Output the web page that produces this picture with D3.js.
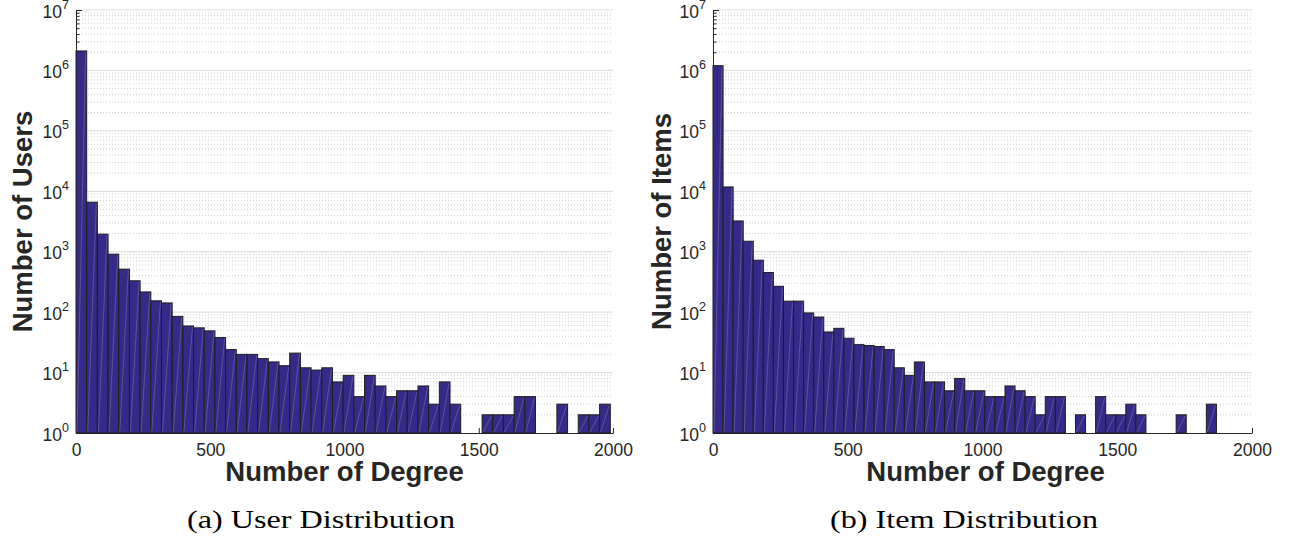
<!DOCTYPE html>
<html>
<head>
<meta charset="utf-8">
<style>
body { margin: 0; background: #ffffff; }
.tick-lbl { font-family: "Liberation Sans", Arial, sans-serif; font-size: 17.5px; fill: #262626; }
.ax-title { font-family: "Liberation Sans", Arial, sans-serif; font-size: 27.5px; font-weight: bold; fill: #262626; }
.caption { font-family: "Liberation Serif", "Times New Roman", serif; font-size: 25px; fill: #000000; }
</style>
<script src="https://d3js.org/d3.v7.min.js"></script>
</head>
<body>
<script>

// histogram counts, 50 bins each
var userCounts = [2100000, 6600, 1950, 910, 515, 330, 216, 154, 142, 85,
                  59, 55, 49, 38, 24, 20, 20, 17, 15, 13,
                  21, 12, 11, 12, 7, 9, 4, 9, 6, 4,
                  5, 5, 6, 3, 7, 3, 0, 0, 2, 2,
                  2, 4, 4, 0, 0, 3, 0, 2, 2, 3];
var itemCounts = [1200000, 11800, 3230, 1490, 724, 453, 268, 152, 152, 97,
                  83, 47, 54, 37, 29, 28, 27, 24, 12, 9,
                  15, 7, 7, 5, 8, 5, 5, 4, 4, 6,
                  5, 4, 2, 4, 4, 0, 2, 0, 4, 2,
                  2, 3, 2, 0, 0, 0, 2, 0, 0, 3];
var userBinWidth = 39.8;
var itemBinWidth = 37.36;

var xTicks = [0, 500, 1000, 1500, 2000];
var yExps = [0, 1, 2, 3, 4, 5, 6, 7];

var width = 1289, height = 541;
var barFill = "#352a87";

var svg = d3.select("body").append("svg")
    .attr("width", width)
    .attr("height", height);

function panel(opt) {
  var g = svg.append("g");
  var x = d3.scaleLinear().domain([0, 2000]).range([opt.x0, opt.x1]);
  var y = d3.scaleLog().domain([1, 1e7]).range([433, 10]);

  var majors = yExps.map(function(e) { return Math.pow(10, e); });
  var minors = [];
  majors.slice(0, -1).forEach(function(d) {
    for (var k = 2; k <= 9; k++) minors.push(d * k);
  });

  // grid
  g.selectAll(".gminor").data(minors).enter().append("line")
    .attr("x1", x(0)).attr("x2", x(2000))
    .attr("y1", function(d) { return y(d); })
    .attr("y2", function(d) { return y(d); })
    .attr("stroke", "#c2c2c2")
    .attr("stroke-width", 0.8)
    .attr("stroke-dasharray", "1 2");
  g.selectAll(".gmajor").data(majors.slice(1)).enter().append("line")
    .attr("x1", x(0)).attr("x2", x(2000))
    .attr("y1", function(d) { return y(d); })
    .attr("y2", function(d) { return y(d); })
    .attr("stroke", "#e1e1e1")
    .attr("stroke-width", 1.2);

  // axes (drawn under the bars, like matlab's default layer)
  var xa = g.append("g")
    .attr("transform", "translate(0," + y(1) + ")")
    .call(d3.axisBottom(x).tickValues(xTicks).tickSize(-5).tickSizeOuter(0));
  xa.selectAll("text")
    .attr("class", "tick-lbl")
    .attr("fill", null)
    .attr("y", 23).attr("dy", null)
    .text(function(d) { return d; });

  var ya = g.append("g")
    .attr("transform", "translate(" + x(0) + ",0)")
    .call(d3.axisLeft(y).tickValues(majors).tickSize(-6).tickSizeOuter(0));
  ya.selectAll(".tick text").each(function(d) {
    var t = d3.select(this)
      .attr("class", "tick-lbl")
      .attr("fill", null)
      .attr("x", -7).attr("y", 7).attr("dy", null);
    t.text("");
    t.append("tspan").text("10");
    t.append("tspan").attr("dy", -9).style("font-size", "12.5px")
      .text(Math.round(Math.log10(d)));
  });
  var minorAxis = ya.append("g")
    .call(d3.axisLeft(y).tickValues(minors).tickSize(-3.5).tickFormat(""));
  minorAxis.select(".domain").remove();
  minorAxis.selectAll("text").remove();
  g.selectAll(".domain, .tick line").attr("stroke", "#262626");

  // bars
  var bins = opt.counts.map(function(v, i) {
    return { x0: i * opt.bw, x1: (i + 1) * opt.bw, v: v };
  }).filter(function(b) { return b.v > 0; });

  var bar = g.selectAll(".bar").data(bins).enter().append("g");
  bar.append("rect")
    .attr("x", function(b) { return x(b.x0); })
    .attr("width", function(b) { return x(b.x1) - x(b.x0); })
    .attr("y", function(b) { return y(b.v); })
    .attr("height", function(b) { return y(1) - y(b.v); })
    .attr("fill", barFill)
    .attr("stroke", "#1e1e1e")
    .attr("stroke-width", 1);
  // faint diagonal seam seen inside every bar
  bar.append("line")
    .attr("x1", function(b) { return x(b.x0) + 1; })
    .attr("y1", y(1) - 1)
    .attr("x2", function(b) { return x(b.x1) - 1; })
    .attr("y2", function(b) { return y(b.v) + 1; })
    .attr("stroke", "#ffffff")
    .attr("stroke-opacity", 0.28)
    .attr("stroke-width", 0.7);

  // titles
  g.append("text")
    .attr("class", "ax-title")
    .attr("text-anchor", "middle")
    .attr("x", (opt.x0 + opt.x1) / 2 + opt.xtOff)
    .attr("y", 481)
    .text("Number of Degree");
  g.append("text")
    .attr("class", "ax-title")
    .attr("text-anchor", "middle")
    .attr("transform", "translate(" + opt.ylabX + ",221.5) rotate(-90)")
    .text(opt.ylab);
  g.append("text")
    .attr("class", "caption")
    .attr("text-anchor", "middle")
    .attr("x", opt.capX)
    .attr("y", 528)
    .attr("textLength", 268)
    .attr("lengthAdjust", "spacingAndGlyphs")
    .text(opt.caption);
}

panel({ counts: userCounts, bw: userBinWidth, x0: 76, x1: 613, xtOff: 0,
        ylabX: 32, ylab: "Number of Users", capX: 321, caption: "(a) User Distribution" });
panel({ counts: itemCounts, bw: itemBinWidth, x0: 713, x1: 1252, xtOff: 3,
        ylabX: 671, ylab: "Number of Items", capX: 964, caption: "(b) Item Distribution" });

</script>
</body>
</html>
